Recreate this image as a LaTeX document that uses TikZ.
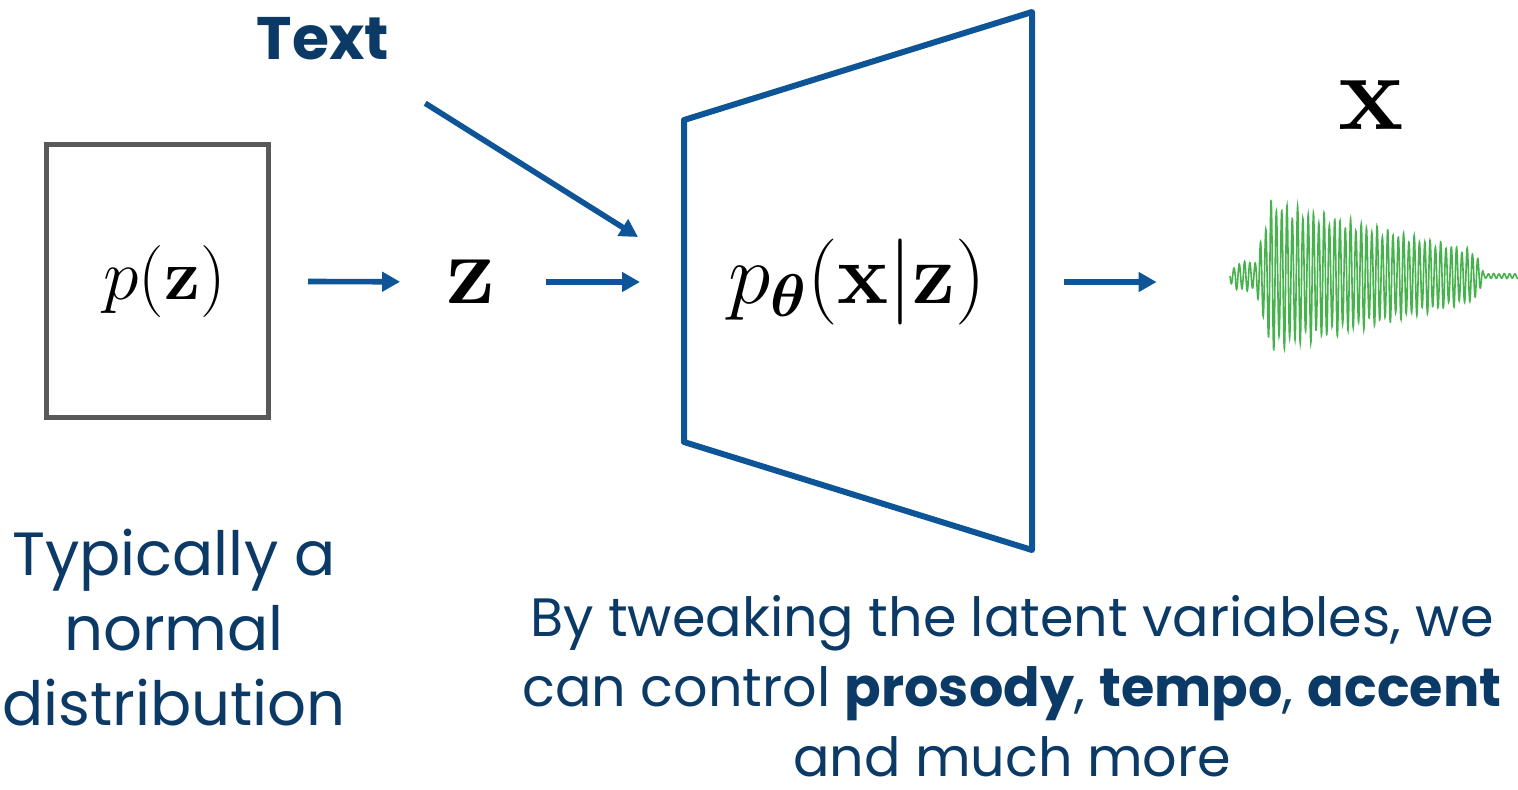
\RequirePackage{fix-cm}
\documentclass[tikz,border=0pt]{standalone}
\usepackage{amsmath}
\usepackage[no-math]{fontspec}
\setmainfont{Poppins}
\definecolor{TextNavy}{HTML}{0C3A66}
\definecolor{ArrowBlue}{HTML}{0E5597}
\definecolor{BoxGray}{HTML}{595959}
\definecolor{WaveGreen}{HTML}{45B24C}
\usetikzlibrary{arrows.meta, positioning}
\tikzset{
  flow/.style={-{Triangle[length=9pt, width=9.5pt]}, line width=2.8pt, draw=ArrowBlue},
  priorbox/.style={draw=BoxGray, line width=2.5pt, minimum width=111pt, minimum height=136.5pt, inner sep=0pt},
  decoder/.style={draw=ArrowBlue, line width=3pt, line join=round},
  mathlabel/.style={inner sep=0pt},
  caption/.style={text=TextNavy, align=center, inner sep=0pt},
  wave/.style={draw=WaveGreen, line width=0.8pt}
}

\begin{document}
\begin{tikzpicture}[x=0.5pt, y=-0.5pt]
\useasboundingbox (0,0) rectangle (1518,789);

% prior and latent
\node[priorbox] (pbox) at (157.5,281) {\fontsize{36}{36}\selectfont\hspace{7pt}$p(\mathbf{z})$};
\node[mathlabel] (zlat) at (471,282) {\fontsize{49}{49}\selectfont$\mathbf{z}$};
\node[caption, font=\fontsize{30}{30}\bfseries\selectfont] (txt) at (323,39) {Text};

% decoder
\coordinate (dec-nw) at (684,120);
\coordinate (dec-ne) at (1032,12);
\coordinate (dec-se) at (1032,550);
\coordinate (dec-sw) at (684,442);
\coordinate (dec-w) at (684,282);
\coordinate (dec-e) at (1032,282);
\coordinate (dec-cond) at (638,237);
\draw[decoder] (dec-nw) -- (dec-ne) -- (dec-se) -- (dec-sw) -- cycle;
\node[mathlabel] (dec) at (857,282) {\fontsize{43}{43}\selectfont$p_{\boldsymbol{\theta}}(\mathbf{x}|\mathbf{z})$};

% output
\node[mathlabel] (xout) at (1371,105) {\fontsize{55}{55}\selectfont$\mathbf{x}$};
\node[minimum width=144pt, minimum height=75pt, inner sep=0pt] (wave) at (1374,282) {};
\draw[wave] plot[domain=0:288, samples=1441]
  ({1230+\x}, {276 + (\x<5 ? 8 : (\x<26 ? 15 : (\x<40 ? 15+(\x-26)*4.4 : (\x<245 ? 77-(\x-40)*0.25 : (\x<254 ? 26-(\x-245)*2.6 : 2.5)))))
    * (0.9+0.1*sin(mod(\x,13)*27.7)) * sin(mod(\x,5.3)*67.92)});

\draw[flow, shorten <=18.5pt, shorten >=23pt] (pbox) -- (zlat);
\draw[flow, shorten <=25pt, shorten >=22pt] (zlat) -- (dec-w);
\draw[flow, shorten <=40pt] (txt) -- (dec-cond);
\draw[flow, shorten <=16pt, shorten >=36.5pt] (dec-e) -- (wave);

% captions
\node[caption, font=\fontsize{30.5}{37.5}\selectfont] (note) at (174,628) {Typically a\\normal\\distribution};
\node[caption, font=\fontsize{27}{35}\selectfont] (effect) at (1012,686) {By tweaking the latent variables, we\\can control \textbf{prosody}, \textbf{tempo}, \textbf{accent}\\and much more};
\end{tikzpicture}
\end{document}
